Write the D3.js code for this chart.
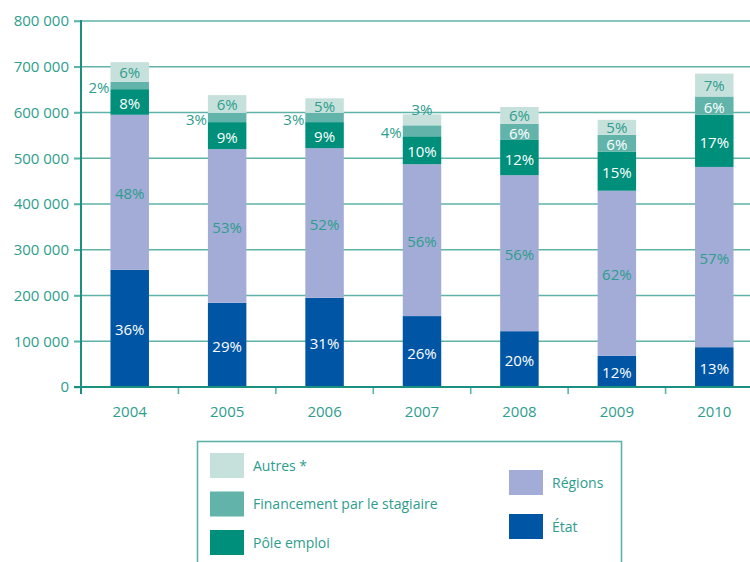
<!DOCTYPE html>
<meta charset="utf-8">
<style>
  body { margin: 0; background: #fff; }
  text { font-family: "Open Sans", sans-serif; }
</style>
<div id="container"></div>
<script src="https://cdn.jsdelivr.net/npm/d3@7"></script>
<script>

// values (persons / euros, in units)
const years = ["2004", "2005", "2006", "2007", "2008", "2009", "2010"];
const etat        = [256000, 184000, 195000, 155000, 122000, 68000, 87000];
const regions     = [339000, 336000, 327000, 332000, 341000, 361000, 394000];
const pole        = [56000, 59000, 57000, 61000, 77000, 85000, 114000];
const financement = [16000, 20000, 20000, 24000, 35000, 37000, 40000];
const autres      = [43000, 39000, 32000, 24000, 37000, 33000, 50000];

// percent labels printed on the chart
const etatPct        = [36, 29, 31, 26, 20, 12, 13];
const regionsPct     = [48, 53, 52, 56, 56, 62, 57];
const polePct        = [8, 9, 9, 10, 12, 15, 17];
const financementPct = [2, 3, 3, 4, 6, 6, 6];
const autresPct      = [6, 6, 5, 3, 6, 5, 7];

const yTicks = [0, 100000, 200000, 300000, 400000, 500000, 600000, 700000, 800000];

const TEAL_TXT = "#2d9d8d";
const GRID = "#5fb3a8";
const AXIS = "#1a9080";

// stacking order bottom -> top
const series = [
  { key: "etat",        name: "État",                          color: "#0055a4", values: etat,        pct: etatPct,        txt: "#ffffff" },
  { key: "regions",     name: "Régions",                       color: "#a3acd6", values: regions,     pct: regionsPct,     txt: TEAL_TXT },
  { key: "pole",        name: "Pôle emploi",                   color: "#008f7b", values: pole,        pct: polePct,        txt: "#ffffff" },
  { key: "financement", name: "Financement par le stagiaire",  color: "#62b4aa", values: financement, pct: financementPct, txt: "#ffffff" },
  { key: "autres",      name: "Autres *",                      color: "#c6e1dc", values: autres,      pct: autresPct,      txt: TEAL_TXT }
];

const table = years.map((y, i) => {
  const row = { year: y };
  series.forEach(s => row[s.key] = s.values[i]);
  return row;
});

const width = 750, height = 562;

const x = d3.scaleBand()
  .domain(years)
  .range([81, 763])
  .paddingInner(0.605)
  .paddingOuter(0.3025);

const y = d3.scaleLinear()
  .domain([0, 800000])
  .range([387, 21]);

const fr = d3.formatLocale({ decimal: ",", thousands: "\u00a0", grouping: [3], currency: ["", " €"] });
const fmt = fr.format(",d");

const svg = d3.create("svg")
  .attr("width", width)
  .attr("height", height);

// gridlines (behind bars)
svg.append("g").selectAll("line")
  .data(yTicks.filter(d => d > 0))
  .join("line")
  .attr("x1", 74).attr("x2", width)
  .attr("y1", d => y(d)).attr("y2", d => y(d))
  .attr("stroke", GRID)
  .attr("stroke-width", 1.6);

// bars
const stack = d3.stack().keys(series.map(s => s.key));
const stacked = stack(table);

stacked.forEach((layer, li) => {
  const s = series[li];
  svg.append("g")
    .attr("fill", s.color)
    .selectAll("rect")
    .data(layer)
    .join("rect")
    .attr("x", d => x(d.data.year))
    .attr("width", x.bandwidth())
    .attr("y", d => y(d[1]))
    .attr("height", d => y(d[0]) - y(d[1]));
});

// y axis
const yAxis = svg.append("g")
  .attr("transform", "translate(81,0)")
  .call(d3.axisLeft(y).tickValues(yTicks).tickFormat(fmt).tickSize(7).tickPadding(5));
yAxis.select(".domain").remove();
yAxis.selectAll(".tick line").attr("stroke", GRID).attr("stroke-width", 1.6);
yAxis.selectAll(".tick text")
  .attr("fill", TEAL_TXT)
  .style("font-size", "15px");

svg.append("line")
  .attr("x1", 81).attr("x2", 81)
  .attr("y1", y(800000) - 1).attr("y2", 394)
  .attr("stroke", AXIS).attr("stroke-width", 2);

// x axis
const step = x.step();
const bounds = d3.range(1, years.length).map(i => x.range()[0] + i * step);
svg.append("g").selectAll("line")
  .data(bounds)
  .join("line")
  .attr("x1", d => d).attr("x2", d => d)
  .attr("y1", y(0)).attr("y2", 394)
  .attr("stroke", GRID).attr("stroke-width", 1.6);

svg.append("line")
  .attr("x1", 74).attr("x2", width)
  .attr("y1", y(0)).attr("y2", y(0))
  .attr("stroke", AXIS).attr("stroke-width", 2);

svg.append("g").selectAll("text")
  .data(years)
  .join("text")
  .attr("x", d => x(d) + x.bandwidth() / 2)
  .attr("y", 411)
  .attr("text-anchor", "middle")
  .attr("dominant-baseline", "central")
  .attr("fill", TEAL_TXT)
  .style("font-size", "15px")
  .text(d => d);

// percent labels
stacked.forEach((layer, li) => {
  const s = series[li];
  layer.forEach((d, i) => {
    const top = y(d[1]), bot = y(d[0]);
    const h = bot - top;
    let tx = x(d.data.year) + x.bandwidth() / 2, ty = (top + bot) / 2, anchor = "middle", col = s.txt;
    if (s.key === "financement" && h < 13) {
      tx = x(d.data.year) - 1; anchor = "end"; col = TEAL_TXT;
    }
    if (s.key === "autres" && h < 13) {
      ty = top - 6; col = TEAL_TXT;
    }
    if (s.key === "autres" && h >= 13) ty -= 1;
    svg.append("text")
      .attr("x", tx).attr("y", ty + 1)
      .attr("text-anchor", anchor)
      .attr("dominant-baseline", "central")
      .attr("fill", col)
      .style("font-size", "15px")
      .text(s.pct[i] + "%");
  });
});

// legend
const lg = svg.append("g");
lg.append("rect")
  .attr("x", 197.5).attr("y", 441.5)
  .attr("width", 424).attr("height", 140)
  .attr("fill", "none")
  .attr("stroke", GRID).attr("stroke-width", 1.6);

const legLeft = ["autres", "financement", "pole"];
const legRight = ["regions", "etat"];
const byKey = Object.fromEntries(series.map(s => [s.key, s]));

function legendItem(key, sx, sy) {
  const s = byKey[key];
  lg.append("rect")
    .attr("x", sx).attr("y", sy)
    .attr("width", 34).attr("height", 25)
    .attr("fill", s.color);
  lg.append("text")
    .attr("x", sx + 43).attr("y", sy + 12)
    .attr("dominant-baseline", "central")
    .attr("fill", TEAL_TXT)
    .style("font-size", "14px")
    .text(s.name);
}
legLeft.forEach((k, i) => legendItem(k, 210, 453 + i * 38.5));
legRight.forEach((k, i) => legendItem(k, 509, 470 + i * 44));

container.append(svg.node());

</script>
